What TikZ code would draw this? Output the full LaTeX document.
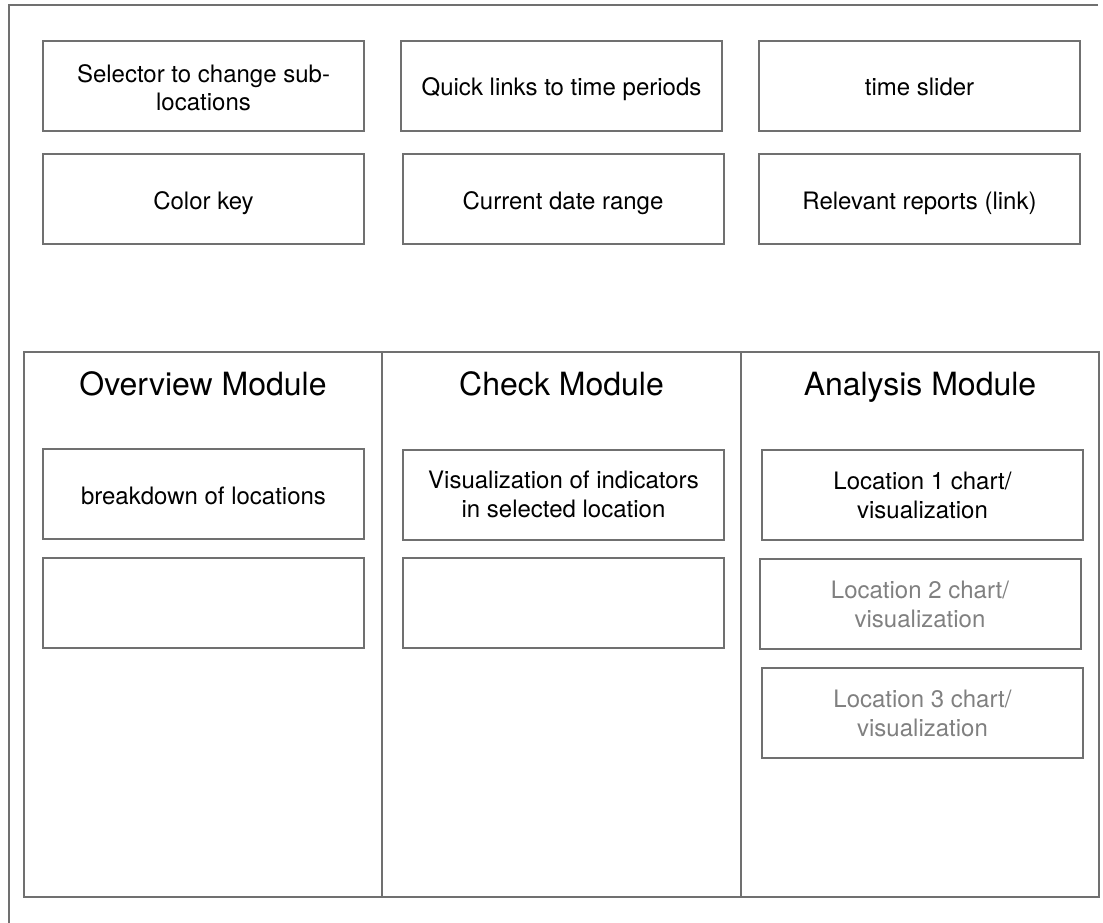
\documentclass[tikz,border=0pt]{standalone}
\usepackage{fontspec}
\setmainfont{TeX Gyre Heros}
\definecolor{edge}{RGB}{112,112,112}
\definecolor{faint}{RGB}{128,128,128}
\begin{document}
\begin{tikzpicture}[x=1pt,y=-1pt,
  box/.style={draw=edge,line width=2pt,inner sep=0pt,align=center,
    minimum width=321pt,minimum height=90pt,font=\fontsize{24}{29}\selectfont},
  single/.style={box,text height=20pt,text depth=0pt},
  frame/.style={draw=edge,line width=2pt},
  title/.style={font=\fontsize{32}{38}\selectfont,anchor=base,inner sep=0pt}]
\useasboundingbox (0,0) rectangle (1103,923);
% outer frame (cropped at right and bottom)
\coordinate (ftr) at (1098,5);
\coordinate (ftl) at (9,5);
\coordinate (fbl) at (9,926);
\draw[frame] (ftr) -- (ftl) -- (fbl);
% top controls
\node[box] (sel) at (203.5,86) {};
\node[align=center,inner sep=0pt,font=\fontsize{24}{28.5}\selectfont] (seltext) at (203.5,87.5) {Selector to change sub-\\locations};
\node[single] (quick) at (561.5,86) {Quick links to time periods};
\node[single] (slider) at (919.5,86) {time slider};
\node[single] (key) at (203.5,199) {Color key};
\node[single] (range) at (563,199) {Current date range};
\node[single] (reports) at (919.5,199) {Relevant reports (link)};
% modules container
\node[frame,inner sep=0pt,minimum width=1075pt,minimum height=545pt] (cont) at (561.5,624.5) {};
\coordinate (d1t) at (382,352);
\coordinate (d1b) at (382,897);
\coordinate (d2t) at (741,352);
\coordinate (d2b) at (741,897);
\draw[frame] (d1t) -- (d1b);
\draw[frame] (d2t) -- (d2b);
% titles
\node[title] (ovt) at (203,395) {Overview Module};
\node[title] (cht) at (561.5,395) {Check Module};
\node[title] (ant) at (920,395) {Analysis Module};
% overview
\node[single] (ov1) at (203.5,494) {breakdown of locations};
\node[box] (ov2) at (203.5,603) {};
% check
\node[box] (ch1) at (563.5,494.5) {Visualization of indicators\\in selected location};
\node[box] (ch2) at (563.5,603) {};
% analysis
\node[box] (an1) at (922.5,495) {Location 1 chart/\\visualization};
\node[box,text=faint] (an2) at (920,604) {Location 2 chart/\\visualization};
\node[box,text=faint] (an3) at (922.5,713) {Location 3 chart/\\visualization};
\end{tikzpicture}
\end{document}
